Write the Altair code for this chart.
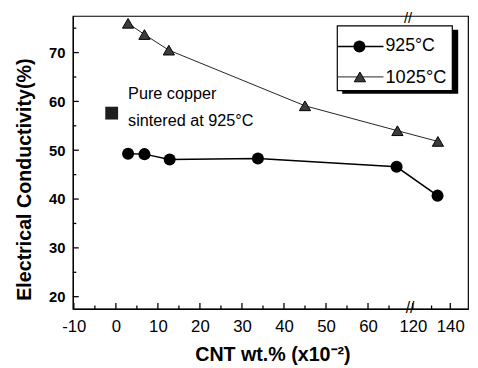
import altair as alt
import pandas as pd

# ---- data ----
x_925 = [2.9, 6.8, 12.8, 33.8, 66.8, 133.2]
y_925 = [49.3, 49.2, 48.1, 48.3, 46.6, 40.7]
x_1025 = [2.9, 6.8, 12.6, 45.0, 67.0, 133.4]
y_1025 = [76.0, 73.7, 70.5, 59.1, 54.0, 51.8]

pure_x = [-1.0]
pure_y = [57.6]
note_text = ["Pure copper", "sintered at 925°C"]
note_x = [2.9, 2.9]
note_y = [61.4, 55.9]

x_major = [-10, 0, 10, 20, 30, 40, 50, 60, 120, 140]
x_minor = [-5, 5, 15, 25, 35, 45, 55, 65, 130]
y_major = [20, 30, 40, 50, 60, 70]
y_minor = [25, 35, 45, 55, 65, 75]

legend_labels = ["925°C", "1025°C"]

FONT = "Liberation Sans"
W, H = 402, 298

# broken x axis: piecewise linear scale (-10..70 | 118.5..149.5)
xs = alt.Scale(domain=[-10, 70, 118.5, 149.5], range=[1, 343, 343, 402], nice=False, zero=False)
ys = alt.Scale(domain=[17.5, 77.5], nice=False, zero=False)

xaxis = alt.Axis(values=x_major, title="CNT wt.% (x10⁻²)", ticks=False, tickSize=0, grid=False,
                 labelExpr="'' + datum.value",
                 labelFont=FONT, labelFontSize=17, labelColor="black", labelPadding=10,
                 labelFlush=False,
                 titleFont=FONT, titleFontSize=20, titleFontWeight="bold", titleColor="black",
                 titleX=203, titleY=46, titleBaseline="middle", titleAlign="center",
                 domainColor="black", domainWidth=1.2)
yaxis = alt.Axis(values=y_major, title="Electrical Conductivity(%)", ticks=False, tickSize=0, grid=False,
                 labelFont=FONT, labelFontSize=15, labelFontWeight="bold", labelColor="black",
                 labelPadding=8,
                 titleFont=FONT, titleFontSize=20, titleFontWeight="bold", titleColor="black",
                 titleX=-49, titleY=166, titleAngle=270, titleBaseline="middle", titleAlign="center",
                 domainColor="black", domainWidth=1.2)


def X(field):
    return alt.X(field, type="quantitative", scale=xs, axis=xaxis)


def Y(field):
    return alt.Y(field, type="quantitative", scale=ys, axis=yaxis)


df925 = pd.DataFrame({"x": x_925, "y": y_925})
df1025 = pd.DataFrame({"x": x_1025, "y": y_1025})
dfpure = pd.DataFrame({"x": pure_x, "y": pure_y})
dfnote = pd.DataFrame({"x": note_x, "y": note_y, "t": note_text})
dfxmaj = pd.DataFrame({"x": x_major})
dfxmin = pd.DataFrame({"x": x_minor})
dfymaj = pd.DataFrame({"y": y_major})
dfymin = pd.DataFrame({"y": y_minor})
one = alt.Data(values=[{"k": 0}])

line925 = alt.Chart(df925).mark_line(color="black", strokeWidth=1.5).encode(x=X("x"), y=Y("y"))
pts925 = alt.Chart(df925).mark_point(shape="circle", filled=True, size=150, color="black", opacity=1).encode(x=X("x"), y=Y("y"))
line1025 = alt.Chart(df1025).mark_line(color="#222222", strokeWidth=1).encode(x=X("x"), y=Y("y"))
pts1025 = alt.Chart(df1025).mark_point(shape="triangle-up", filled=True, size=130, fill="#3c3c3c",
                                        stroke="black", strokeWidth=1, opacity=1).encode(x=X("x"), y=Y("y"))
pure = alt.Chart(dfpure).mark_point(shape="square", filled=True, size=170, color="#1e1e1e", opacity=1).encode(x=X("x"), y=Y("y"))
note = alt.Chart(dfnote).mark_text(align="left", baseline="middle", font=FONT, fontSize=16.5, color="black").encode(
    x=X("x"), y=Y("y"), text="t:N")

# inward ticks, placed through the scales
xt_major = alt.Chart(dfxmaj).mark_rule(color="black", strokeWidth=1.3).encode(x=X("x"), y=alt.value(H), y2=alt.value(H - 6))
xt_minor = alt.Chart(dfxmin).mark_rule(color="black", strokeWidth=1.3).encode(x=X("x"), y=alt.value(H), y2=alt.value(H - 3.5))
yt_major = alt.Chart(dfymaj).mark_rule(color="black", strokeWidth=1.3).encode(y=Y("y"), x=alt.value(0), x2=alt.value(6))
yt_minor = alt.Chart(dfymin).mark_rule(color="black", strokeWidth=1.3).encode(y=Y("y"), x=alt.value(0), x2=alt.value(3.5))

breaks = alt.Chart(pd.DataFrame({"x": [70], "y": [77.5]})).mark_text(
    text="//", font=FONT, fontSize=15, color="black", align="center", baseline="middle", dx=-2, dy=2
).encode(x=X("x"), y=Y("y"))
breaks_b = alt.Chart(pd.DataFrame({"x": [70], "y": [17.5]})).mark_text(
    text="//", font=FONT, fontSize=16, color="black", align="center", baseline="middle", dx=0, dy=-1
).encode(x=X("x"), y=Y("y"))

# legend box (drawn by hand, Origin style with shadow)
shadow = alt.Chart(one).mark_rect(fill="black").encode(x=alt.value(274), x2=alt.value(392), y=alt.value(14), y2=alt.value(79))
box = alt.Chart(one).mark_rect(fill="white", stroke="black", strokeWidth=1.2).encode(
    x=alt.value(269), x2=alt.value(386), y=alt.value(10), y2=alt.value(76))
leg1_line = alt.Chart(one).mark_rule(color="black", strokeWidth=1.5).encode(x=alt.value(269), x2=alt.value(316), y=alt.value(31))
leg1_pt = alt.Chart(one).mark_point(shape="circle", filled=True, size=150, color="black", opacity=1).encode(
    x=alt.value(291.5), y=alt.value(31))
leg1_txt = alt.Chart(one).mark_text(align="left", baseline="middle", font=FONT, fontSize=18, color="black").encode(
    x=alt.value(318), y=alt.value(31), text=alt.value(legend_labels[0]))
leg2_line = alt.Chart(one).mark_rule(color="#222222", strokeWidth=1).encode(x=alt.value(269), x2=alt.value(316), y=alt.value(62))
leg2_pt = alt.Chart(one).mark_point(shape="triangle-up", filled=True, size=130, fill="#3c3c3c", stroke="black",
                                    strokeWidth=1, opacity=1).encode(x=alt.value(292), y=alt.value(62))
leg2_txt = alt.Chart(one).mark_text(align="left", baseline="middle", font=FONT, fontSize=18.5, color="black").encode(
    x=alt.value(318), y=alt.value(62), text=alt.value(legend_labels[1]))

chart = alt.layer(
    line925, line1025, pts925, pts1025, pure, note,
    shadow, box, leg1_line, leg1_pt, leg1_txt, leg2_line, leg2_pt, leg2_txt,
    xt_major, xt_minor, yt_major, yt_minor, breaks, breaks_b,
).properties(
    width=W, height=H,
    autosize=alt.AutoSizeParams(type="none"),
    padding={"left": 66, "top": 5, "right": 2, "bottom": 56},
    background="white",
).configure_view(stroke="black", strokeWidth=1.2)

chart.save("out.html", embed_options={"renderer": "svg", "actions": False})
